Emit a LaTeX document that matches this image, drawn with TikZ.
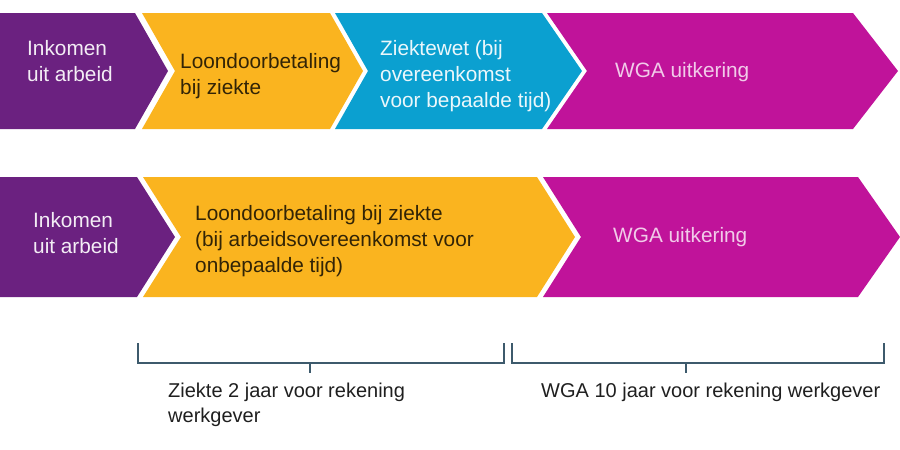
\documentclass[tikz,border=0pt]{standalone}
\usepackage{fontspec}
\setmainfont{Liberation Sans}
\definecolor{paars}{HTML}{6B2180}
\definecolor{geel}{HTML}{FAB41F}
\definecolor{blauw}{HTML}{0BA0D0}
\definecolor{roze}{HTML}{C0139A}
\definecolor{haak}{HTML}{3D5A6C}
\tikzset{
    tekst/.style={anchor=west, inner sep=0pt, align=left, font=\fontsize{20.8}{26}\selectfont},
    onder/.style={tekst, font=\fontsize{20}{24.5}\selectfont, text=black!88},
    haakje/.style={draw=haak, line width=1.3pt},
}
\begin{document}
\begin{tikzpicture}[x=1pt,y=-1pt]
                \useasboundingbox (0,0) rectangle (900,450);
                \fill[paars] (0,13) -- (135,13) -- (168,71) -- (135,129) -- (0,129) -- cycle;
                \fill[geel] (142,13) -- (330,13) -- (363,71) -- (330,129) -- (142,129) -- (175,71) -- cycle;
                \fill[blauw] (335,13) -- (542,13) -- (582,71) -- (542,129) -- (335,129) -- (368,71) -- cycle;
                \fill[roze] (547,13) -- (853,13) -- (898,71) -- (853,129) -- (547,129) -- (587,71) -- cycle;
                \node[tekst, text=paars!8] (inkomen1) at (27,61) {Inkomen\\uit arbeid};
                \node[tekst, text=black!80!geel] (loon1) at (180,76) {Loondoorbetaling\\bij ziekte};
                \node[tekst, text=blauw!8] (ziektewet) at (380,76) {Ziektewet (bij\\overeenkomst\\voor bepaalde tijd)};
                \node[tekst, text=roze!22] (wga1) at (615,72) {WGA uitkering};
                \begin{scope}
                    \fill[paars] (0,177) -- (137,177) -- (175,237) -- (137,297) -- (0,297) -- cycle;
                    \fill[geel] (143,177) -- (537,177) -- (575,237) -- (537,297) -- (143,297) -- (181,237) -- cycle;
                    \fill[roze] (543,177) -- (858,177) -- (900,237) -- (858,297) -- (543,297) -- (581,237) -- cycle;
                    \node[tekst, text=paars!8] (inkomen2) at (33,233) {Inkomen\\uit arbeid};
                    \node[tekst, text=black!80!geel] (loon2) at (195,241) {Loondoorbetaling bij ziekte\\(bij arbeidsovereenkomst voor\\onbepaalde tijd)};
                    \node[tekst, text=roze!22] (wga2) at (613,237) {WGA uitkering};
                \end{scope}
                \draw[haakje] (138,343) -- (138,363) -- (504,363) -- (504,343);
                \draw[haakje] (310,363) -- (310,373);
                \draw[haakje] (512,343) -- (512,363) -- (884,363) -- (884,343);
                \draw[haakje] (686,363) -- (686,373);
                \node[onder] (ziekte) at (168,405) {Ziekte 2 jaar voor rekening\\werkgever};
                \node[onder] (wgajaar) at (541,392) {WGA 10 jaar voor rekening werkgever};
            \end{tikzpicture}
\end{document}
